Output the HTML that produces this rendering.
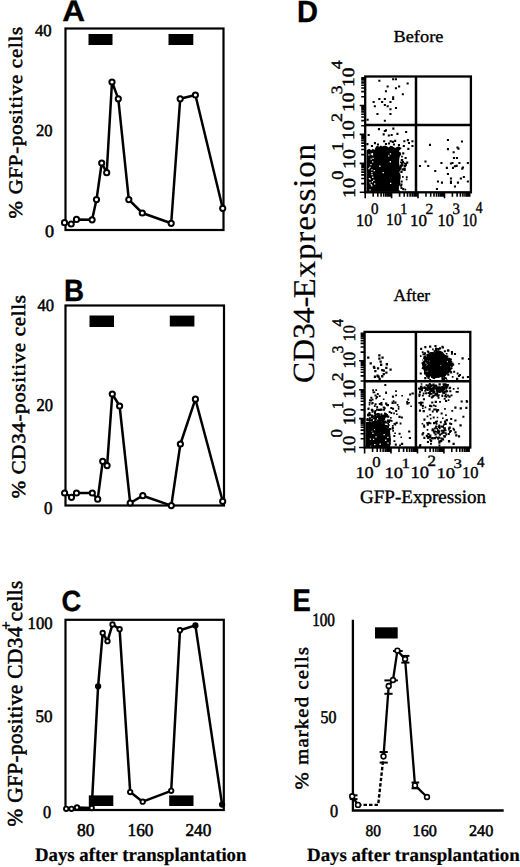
<!DOCTYPE html>
<html><head><meta charset="utf-8"><style>
html,body{margin:0;padding:0;background:#fff;overflow:hidden;width:520px;height:867px;}
svg{display:block;}
</style></head><body>
<svg width="520" height="867" viewBox="0 0 520 867">
<rect width="520" height="867" fill="#fff"/>
<g transform="matrix(1.1266,0,0,1.0500,-50.29,-83.50)"><g transform=""><text text-rendering="geometricPrecision" transform="translate(100,100)" font-family='"Liberation Sans", sans-serif' font-size="28" font-weight="bold" letter-spacing="0" stroke="#000" stroke-width="0.3">A</text></g></g>
<g transform="matrix(0.9908,0,0,1.0973,-35.09,191.19)"><g transform=""><text text-rendering="geometricPrecision" transform="translate(100,100)" font-family='"Liberation Sans", sans-serif' font-size="28" font-weight="bold" letter-spacing="0" stroke="#000" stroke-width="0.3">B</text></g></g>
<g transform="matrix(0.9769,0,0,1.0431,-36.18,507.03)"><g transform=""><text text-rendering="geometricPrecision" transform="translate(100,100)" font-family='"Liberation Sans", sans-serif' font-size="28" font-weight="bold" letter-spacing="0" stroke="#000" stroke-width="0.3">C</text></g></g>
<g transform="matrix(1.0381,0,0,1.0952,193.09,-87.14)"><g transform=""><text text-rendering="geometricPrecision" transform="translate(100,100)" font-family='"Liberation Sans", sans-serif' font-size="28" font-weight="bold" letter-spacing="0" stroke="#000" stroke-width="0.3">D</text></g></g>
<g transform="matrix(0.9782,0,0,1.1169,194.72,499.59)"><g transform=""><text text-rendering="geometricPrecision" transform="translate(100,100)" font-family='"Liberation Sans", sans-serif' font-size="28" font-weight="bold" letter-spacing="0" stroke="#000" stroke-width="0.3">E</text></g></g>
<g transform="matrix(0.9279,0,0,0.9370,-57.82,-57.47)"><g transform=""><text text-rendering="geometricPrecision" transform="translate(100,100)" font-family='"Liberation Serif", serif' font-size="18" font-weight="normal" letter-spacing="0" stroke="#000" stroke-width="0.55">40</text></g></g>
<g transform="matrix(0.9194,0,0,0.9354,-55.99,42.64)"><g transform=""><text text-rendering="geometricPrecision" transform="translate(100,100)" font-family='"Liberation Serif", serif' font-size="18" font-weight="normal" letter-spacing="0" stroke="#000" stroke-width="0.55">20</text></g></g>
<g transform="matrix(1.0091,0,0,0.9736,-56.00,139.29)"><g transform=""><text text-rendering="geometricPrecision" transform="translate(100,100)" font-family='"Liberation Serif", serif' font-size="18" font-weight="normal" letter-spacing="0" stroke="#000" stroke-width="0.55">0</text></g></g>
<g transform="matrix(0.9183,0,0,0.9669,-54.35,213.90)"><g transform=""><text text-rendering="geometricPrecision" transform="translate(100,100)" font-family='"Liberation Serif", serif' font-size="18" font-weight="normal" letter-spacing="0" stroke="#000" stroke-width="0.55">40</text></g></g>
<g transform="matrix(0.9157,0,0,1.0000,-55.09,311.00)"><g transform=""><text text-rendering="geometricPrecision" transform="translate(100,100)" font-family='"Liberation Serif", serif' font-size="18" font-weight="normal" letter-spacing="0" stroke="#000" stroke-width="0.55">20</text></g></g>
<g transform="matrix(0.9365,0,0,1.0000,-49.66,413.50)"><g transform=""><text text-rendering="geometricPrecision" transform="translate(100,100)" font-family='"Liberation Serif", serif' font-size="18" font-weight="normal" letter-spacing="0" stroke="#000" stroke-width="0.55">0</text></g></g>
<g transform="matrix(0.9252,0,0,0.9736,-64.95,531.79)"><g transform=""><text text-rendering="geometricPrecision" transform="translate(100,100)" font-family='"Liberation Serif", serif' font-size="18" font-weight="normal" letter-spacing="0" stroke="#000" stroke-width="0.55">100</text></g></g>
<g transform="matrix(0.9478,0,0,0.9669,-59.26,624.85)"><g transform=""><text text-rendering="geometricPrecision" transform="translate(100,100)" font-family='"Liberation Serif", serif' font-size="18" font-weight="normal" letter-spacing="0" stroke="#000" stroke-width="0.55">50</text></g></g>
<g transform="matrix(0.9024,0,0,1.0000,-47.30,717.50)"><g transform=""><text text-rendering="geometricPrecision" transform="translate(100,100)" font-family='"Liberation Serif", serif' font-size="18" font-weight="normal" letter-spacing="0" stroke="#000" stroke-width="0.55">0</text></g></g>
<g transform="matrix(0.9712,0,0,1.0000,-20.13,736.00)"><g transform=""><text text-rendering="geometricPrecision" transform="translate(100,100)" font-family='"Liberation Serif", serif' font-size="18" font-weight="normal" letter-spacing="0" stroke="#000" stroke-width="0.55">80</text></g></g>
<g transform="matrix(0.9630,0,0,1.0000,31.21,736.00)"><g transform=""><text text-rendering="geometricPrecision" transform="translate(100,100)" font-family='"Liberation Serif", serif' font-size="18" font-weight="normal" letter-spacing="0" stroke="#000" stroke-width="0.55">160</text></g></g>
<g transform="matrix(0.9583,0,0,1.0000,89.63,736.00)"><g transform=""><text text-rendering="geometricPrecision" transform="translate(100,100)" font-family='"Liberation Serif", serif' font-size="18" font-weight="normal" letter-spacing="0" stroke="#000" stroke-width="0.55">240</text></g></g>
<g transform="matrix(0.8453,0,0,1.0412,227.61,522.33)"><g transform=""><text text-rendering="geometricPrecision" transform="translate(100,100)" font-family='"Liberation Serif", serif' font-size="18" font-weight="normal" letter-spacing="0" stroke="#000" stroke-width="0.55">100</text></g></g>
<g transform="matrix(0.8861,0,0,1.0052,231.98,622.00)"><g transform=""><text text-rendering="geometricPrecision" transform="translate(100,100)" font-family='"Liberation Serif", serif' font-size="18" font-weight="normal" letter-spacing="0" stroke="#000" stroke-width="0.55">50</text></g></g>
<g transform="matrix(0.9024,0,0,1.0138,239.71,715.76)"><g transform=""><text text-rendering="geometricPrecision" transform="translate(100,100)" font-family='"Liberation Serif", serif' font-size="18" font-weight="normal" letter-spacing="0" stroke="#000" stroke-width="0.55">0</text></g></g>
<g transform="matrix(0.8569,0,0,0.9014,279.80,745.59)"><g transform=""><text text-rendering="geometricPrecision" transform="translate(100,100)" font-family='"Liberation Serif", serif' font-size="18" font-weight="normal" letter-spacing="0" stroke="#000" stroke-width="0.55">80</text></g></g>
<g transform="matrix(0.9001,0,0,0.9014,322.58,745.59)"><g transform=""><text text-rendering="geometricPrecision" transform="translate(100,100)" font-family='"Liberation Serif", serif' font-size="18" font-weight="normal" letter-spacing="0" stroke="#000" stroke-width="0.55">160</text></g></g>
<g transform="matrix(0.9027,0,0,0.9014,378.70,745.59)"><g transform=""><text text-rendering="geometricPrecision" transform="translate(100,100)" font-family='"Liberation Serif", serif' font-size="18" font-weight="normal" letter-spacing="0" stroke="#000" stroke-width="0.55">240</text></g></g>
<g transform="matrix(1.0050,0,0,1.0165,-65.50,759.03)"><g transform=""><text text-rendering="geometricPrecision" transform="translate(100,100)" font-family='"Liberation Serif", serif' font-size="18.7" font-weight="bold" letter-spacing="0" stroke="#000" stroke-width="0.2">Days after transplantation</text></g></g>
<g transform="matrix(1.0112,0,0,0.9920,205.88,761.67)"><g transform=""><text text-rendering="geometricPrecision" transform="translate(100,100)" font-family='"Liberation Serif", serif' font-size="18.7" font-weight="bold" letter-spacing="0" stroke="#000" stroke-width="0.2">Days after transplantation</text></g></g>
<g transform="matrix(0.9280,0,0,1.0073,-70.40,-285.26)"><g transform="translate(0,400)"><text text-rendering="geometricPrecision" transform="translate(100,100) rotate(-90)" font-family='"Liberation Serif", serif' font-size="20.7" font-weight="normal" letter-spacing="0.75" stroke="#000" stroke-width="0.55">% GFP-positive cells</text></g></g>
<g transform="matrix(0.9292,0,0,1.0038,-67.48,-3.63)"><g transform="translate(0,400)"><text text-rendering="geometricPrecision" transform="translate(100,100) rotate(-90)" font-family='"Liberation Serif", serif' font-size="20.8" font-weight="normal" letter-spacing="0.7" stroke="#000" stroke-width="0.55">% CD34-positive cells</text></g></g>
<g transform="matrix(1.0000,0,0,1.0044,-78.50,324.36)"><g transform="translate(0,400)"><text text-rendering="geometricPrecision" transform="translate(100,100) rotate(-90)" font-family='"Liberation Serif", serif' font-size="21.2" font-weight="normal" letter-spacing="0.4" stroke="#000" stroke-width="0.55">% GFP-positive CD34<tspan font-size="15" dy="-11" dx="-3.5">+</tspan><tspan dy="11" dx="-0.5">cells</tspan></text></g></g>
<g transform="matrix(0.9104,0,0,1.0003,217.09,289.39)"><g transform="translate(0,400)"><text text-rendering="geometricPrecision" transform="translate(100,100) rotate(-90)" font-family='"Liberation Serif", serif' font-size="20.6" font-weight="normal" letter-spacing="1.2" stroke="#000" stroke-width="0.55">% marked cells</text></g></g>
<g transform="matrix(0.9524,0,0,0.9767,218.70,-105.40)"><g transform="translate(0,400)"><text text-rendering="geometricPrecision" transform="translate(100,100) rotate(-90)" font-family='"Liberation Serif", serif' font-size="32.4" font-weight="normal" letter-spacing="0" stroke="#000" stroke-width="0.15">CD34-</text></g></g>
<g transform="matrix(0.9818,0,0,1.0231,216.41,-213.06)"><g transform="translate(0,400)"><text text-rendering="geometricPrecision" transform="translate(100,100) rotate(-90)" font-family='"Liberation Serif", serif' font-size="32.4" font-weight="normal" letter-spacing="0.8" stroke="#000" stroke-width="0.15">Expression</text></g></g>
<g transform="matrix(1.0190,0,0,0.9334,291.59,-51.25)"><g transform=""><text text-rendering="geometricPrecision" transform="translate(100,100)" font-family='"Liberation Serif", serif' font-size="18" font-weight="normal" letter-spacing="0" stroke="#000" stroke-width="0.35">Before</text></g></g>
<g transform="matrix(0.9653,0,0,0.9634,296.96,204.16)"><g transform=""><text text-rendering="geometricPrecision" transform="translate(100,100)" font-family='"Liberation Serif", serif' font-size="18" font-weight="normal" letter-spacing="0" stroke="#000" stroke-width="0.35">After</text></g></g>
<g transform="matrix(1.0031,0,0,0.9990,259.68,403.07)"><g transform=""><text text-rendering="geometricPrecision" transform="translate(100,100)" font-family='"Liberation Serif", serif' font-size="19" font-weight="normal" letter-spacing="0" stroke="#000" stroke-width="0.35">GFP-Expression</text></g></g>
<g transform="matrix(1.0274,0,0,1.1479,252.32,-375.89)"><g transform="translate(0,400)"><text text-rendering="geometricPrecision" transform="translate(100,100) rotate(-90)" font-family='"Liberation Serif", serif' font-size="17.5" font-weight="normal" letter-spacing="0" stroke="#000" stroke-width="0.4">10<tspan font-size="16" dx="-1.5" dy="-12">0</tspan></text></g></g>
<g transform="matrix(1.0217,0,0,1.1296,252.82,-395.83)"><g transform="translate(0,400)"><text text-rendering="geometricPrecision" transform="translate(100,100) rotate(-90)" font-family='"Liberation Serif", serif' font-size="17.5" font-weight="normal" letter-spacing="0" stroke="#000" stroke-width="0.4">10<tspan font-size="16" dx="-1.5" dy="-12">1</tspan></text></g></g>
<g transform="matrix(0.9826,0,0,1.1364,255.83,-428.05)"><g transform="translate(0,400)"><text text-rendering="geometricPrecision" transform="translate(100,100) rotate(-90)" font-family='"Liberation Serif", serif' font-size="17.5" font-weight="normal" letter-spacing="0" stroke="#000" stroke-width="0.4">10<tspan font-size="16" dx="-1.5" dy="-12">2</tspan></text></g></g>
<g transform="matrix(0.9826,0,0,1.1044,255.83,-440.21)"><g transform="translate(0,400)"><text text-rendering="geometricPrecision" transform="translate(100,100) rotate(-90)" font-family='"Liberation Serif", serif' font-size="17.5" font-weight="normal" letter-spacing="0" stroke="#000" stroke-width="0.4">10<tspan font-size="16" dx="-1.5" dy="-12">3</tspan></text></g></g>
<g transform="matrix(0.9826,0,0,1.1044,255.83,-465.22)"><g transform="translate(0,400)"><text text-rendering="geometricPrecision" transform="translate(100,100) rotate(-90)" font-family='"Liberation Serif", serif' font-size="17.5" font-weight="normal" letter-spacing="0" stroke="#000" stroke-width="0.4">10<tspan font-size="16" dx="-1.5" dy="-12">4</tspan></text></g></g>
<g transform="matrix(1.0243,0,0,1.0580,252.13,-74.65)"><g transform="translate(0,400)"><text text-rendering="geometricPrecision" transform="translate(100,100) rotate(-90)" font-family='"Liberation Serif", serif' font-size="17.5" font-weight="normal" letter-spacing="0" stroke="#000" stroke-width="0.4">10<tspan font-size="16" dx="-1.5" dy="-12">0</tspan></text></g></g>
<g transform="matrix(1.0000,0,0,0.9799,254.50,-64.90)"><g transform="translate(0,400)"><text text-rendering="geometricPrecision" transform="translate(100,100) rotate(-90)" font-family='"Liberation Serif", serif' font-size="17.5" font-weight="normal" letter-spacing="0" stroke="#000" stroke-width="0.4">10<tspan font-size="16" dx="-1.5" dy="-12">1</tspan></text></g></g>
<g transform="matrix(1.0043,0,0,1.1004,254.16,-151.42)"><g transform="translate(0,400)"><text text-rendering="geometricPrecision" transform="translate(100,100) rotate(-90)" font-family='"Liberation Serif", serif' font-size="17.5" font-weight="normal" letter-spacing="0" stroke="#000" stroke-width="0.4">10<tspan font-size="16" dx="-1.5" dy="-12">2</tspan></text></g></g>
<g transform="matrix(1.0043,0,0,0.9590,254.16,-110.98)"><g transform="translate(0,400)"><text text-rendering="geometricPrecision" transform="translate(100,100) rotate(-90)" font-family='"Liberation Serif", serif' font-size="17.5" font-weight="normal" letter-spacing="0" stroke="#000" stroke-width="0.4">10<tspan font-size="16" dx="-1.5" dy="-12">3</tspan></text></g></g>
<g transform="matrix(1.0043,0,0,0.9410,254.16,-128.92)"><g transform="translate(0,400)"><text text-rendering="geometricPrecision" transform="translate(100,100) rotate(-90)" font-family='"Liberation Serif", serif' font-size="17.5" font-weight="normal" letter-spacing="0" stroke="#000" stroke-width="0.4">10<tspan font-size="16" dx="-1.5" dy="-12">4</tspan></text></g></g>
<g transform="matrix(0.9358,0,0,0.9997,262.47,126.47)"><g transform=""><text text-rendering="geometricPrecision" transform="translate(100,100)" font-family='"Liberation Serif", serif' font-size="17.5" font-weight="normal" letter-spacing="0" stroke="#000" stroke-width="0.4">10<tspan font-size="16" dx="-1.5" dy="-12">0</tspan></text></g></g>
<g transform="matrix(0.8875,0,0,0.9723,297.36,128.12)"><g transform=""><text text-rendering="geometricPrecision" transform="translate(100,100)" font-family='"Liberation Serif", serif' font-size="17.5" font-weight="normal" letter-spacing="0" stroke="#000" stroke-width="0.4">10<tspan font-size="16" dx="-1.5" dy="-12">1</tspan></text></g></g>
<g transform="matrix(0.9741,0,0,0.9591,312.59,129.61)"><g transform=""><text text-rendering="geometricPrecision" transform="translate(100,100)" font-family='"Liberation Serif", serif' font-size="17.5" font-weight="normal" letter-spacing="0" stroke="#000" stroke-width="0.4">10<tspan font-size="16" dx="-1.5" dy="-12">2</tspan></text></g></g>
<g transform="matrix(0.9295,0,0,1.0023,344.61,125.32)"><g transform=""><text text-rendering="geometricPrecision" transform="translate(100,100)" font-family='"Liberation Serif", serif' font-size="17.5" font-weight="normal" letter-spacing="0" stroke="#000" stroke-width="0.4">10<tspan font-size="16" dx="-1.5" dy="-12">3</tspan></text></g></g>
<g transform="matrix(0.8504,0,0,1.0459,377.10,120.94)"><g transform=""><text text-rendering="geometricPrecision" transform="translate(100,100)" font-family='"Liberation Serif", serif' font-size="17.5" font-weight="normal" letter-spacing="0" stroke="#000" stroke-width="0.4">10<tspan font-size="16" dx="-1.5" dy="-12">4</tspan></text></g></g>
<g transform="matrix(1.0452,0,0,0.9427,250.92,383.89)"><g transform=""><text text-rendering="geometricPrecision" transform="translate(100,100)" font-family='"Liberation Serif", serif' font-size="17.5" font-weight="normal" letter-spacing="0" stroke="#000" stroke-width="0.4">10<tspan font-size="16" dx="-1.5" dy="-12">0</tspan></text></g></g>
<g transform="matrix(1.0638,0,0,0.8847,278.03,389.82)"><g transform=""><text text-rendering="geometricPrecision" transform="translate(100,100)" font-family='"Liberation Serif", serif' font-size="17.5" font-weight="normal" letter-spacing="0" stroke="#000" stroke-width="0.4">10<tspan font-size="16" dx="-1.5" dy="-12">1</tspan></text></g></g>
<g transform="matrix(1.0597,0,0,0.9815,304.45,379.92)"><g transform=""><text text-rendering="geometricPrecision" transform="translate(100,100)" font-family='"Liberation Serif", serif' font-size="17.5" font-weight="normal" letter-spacing="0" stroke="#000" stroke-width="0.4">10<tspan font-size="16" dx="-1.5" dy="-12">2</tspan></text></g></g>
<g transform="matrix(1.0597,0,0,0.8378,330.46,394.49)"><g transform=""><text text-rendering="geometricPrecision" transform="translate(100,100)" font-family='"Liberation Serif", serif' font-size="17.5" font-weight="normal" letter-spacing="0" stroke="#000" stroke-width="0.4">10<tspan font-size="16" dx="-1.5" dy="-12">3</tspan></text></g></g>
<g transform="matrix(0.9410,0,0,0.9444,367.96,383.75)"><g transform=""><text text-rendering="geometricPrecision" transform="translate(100,100)" font-family='"Liberation Serif", serif' font-size="17.5" font-weight="normal" letter-spacing="0" stroke="#000" stroke-width="0.4">10<tspan font-size="16" dx="-1.5" dy="-12">4</tspan></text></g></g>
<rect x="65.5" y="28.5" width="158.0" height="201.5" fill="none" stroke="#000" stroke-width="2.2"/>
<rect x="88.5" y="34" width="24.0" height="11.0" fill="#000"/>
<rect x="168.5" y="34" width="24.8" height="11.0" fill="#000"/>
<path d="M64.5,222.7 L71.2,224 L76.5,219.4 L92.1,219.8 L96.5,199.6 L101.7,163 L106.7,172.7 L112,82 L118.3,98.8 L128.8,199.6 L142.3,213 L171.2,223.3 L180.2,98.8 L195.4,95 L222.7,208.3" fill="none" stroke="#000" stroke-width="2.5" stroke-linejoin="round"/>
<circle cx="64.5" cy="222.7" r="2.6" fill="#fff" stroke="#000" stroke-width="2.0"/>
<circle cx="71.2" cy="224" r="2.6" fill="#fff" stroke="#000" stroke-width="2.0"/>
<circle cx="76.5" cy="219.4" r="2.6" fill="#fff" stroke="#000" stroke-width="2.0"/>
<circle cx="92.1" cy="219.8" r="2.6" fill="#fff" stroke="#000" stroke-width="2.0"/>
<circle cx="96.5" cy="199.6" r="2.6" fill="#fff" stroke="#000" stroke-width="2.0"/>
<circle cx="101.7" cy="163" r="2.6" fill="#fff" stroke="#000" stroke-width="2.0"/>
<circle cx="106.7" cy="172.7" r="2.6" fill="#fff" stroke="#000" stroke-width="2.0"/>
<circle cx="112" cy="82" r="2.6" fill="#fff" stroke="#000" stroke-width="2.0"/>
<circle cx="118.3" cy="98.8" r="2.6" fill="#fff" stroke="#000" stroke-width="2.0"/>
<circle cx="128.8" cy="199.6" r="2.6" fill="#fff" stroke="#000" stroke-width="2.0"/>
<circle cx="142.3" cy="213" r="2.6" fill="#fff" stroke="#000" stroke-width="2.0"/>
<circle cx="171.2" cy="223.3" r="2.6" fill="#fff" stroke="#000" stroke-width="2.0"/>
<circle cx="180.2" cy="98.8" r="2.6" fill="#fff" stroke="#000" stroke-width="2.0"/>
<circle cx="195.4" cy="95" r="2.6" fill="#fff" stroke="#000" stroke-width="2.0"/>
<circle cx="222.7" cy="208.3" r="2.6" fill="#fff" stroke="#000" stroke-width="2.0"/>
<rect x="65.5" y="305.5" width="158.5" height="200.0" fill="none" stroke="#000" stroke-width="2.2"/>
<rect x="89.5" y="315.5" width="24.5" height="11.5" fill="#000"/>
<rect x="169.8" y="315.6" width="24.6" height="10.9" fill="#000"/>
<path d="M64.6,493 L71.5,497.3 L76.5,493 L92.3,493 L97.7,499.2 L102.7,461.3 L107.1,465.6 L112.3,394 L119.6,406 L130.2,503 L142.8,495.7 L171.3,505.6 L180.4,444 L195.4,399.2 L222.7,501.3" fill="none" stroke="#000" stroke-width="2.5" stroke-linejoin="round"/>
<circle cx="64.6" cy="493" r="2.6" fill="#fff" stroke="#000" stroke-width="2.0"/>
<circle cx="71.5" cy="497.3" r="2.6" fill="#fff" stroke="#000" stroke-width="2.0"/>
<circle cx="76.5" cy="493" r="2.6" fill="#fff" stroke="#000" stroke-width="2.0"/>
<circle cx="92.3" cy="493" r="2.6" fill="#fff" stroke="#000" stroke-width="2.0"/>
<circle cx="97.7" cy="499.2" r="2.6" fill="#fff" stroke="#000" stroke-width="2.0"/>
<circle cx="102.7" cy="461.3" r="2.6" fill="#fff" stroke="#000" stroke-width="2.0"/>
<circle cx="107.1" cy="465.6" r="2.6" fill="#fff" stroke="#000" stroke-width="2.0"/>
<circle cx="112.3" cy="394" r="2.6" fill="#fff" stroke="#000" stroke-width="2.0"/>
<circle cx="119.6" cy="406" r="2.6" fill="#fff" stroke="#000" stroke-width="2.0"/>
<circle cx="130.2" cy="503" r="2.6" fill="#fff" stroke="#000" stroke-width="2.0"/>
<circle cx="142.8" cy="495.7" r="2.6" fill="#fff" stroke="#000" stroke-width="2.0"/>
<circle cx="171.3" cy="505.6" r="2.6" fill="#fff" stroke="#000" stroke-width="2.0"/>
<circle cx="180.4" cy="444" r="2.6" fill="#fff" stroke="#000" stroke-width="2.0"/>
<circle cx="195.4" cy="399.2" r="2.6" fill="#fff" stroke="#000" stroke-width="2.0"/>
<circle cx="222.7" cy="501.3" r="2.6" fill="#fff" stroke="#000" stroke-width="2.0"/>
<rect x="65.5" y="619.8" width="158.3" height="190.20000000000005" fill="none" stroke="#000" stroke-width="2.2"/>
<rect x="88.8" y="795.4" width="24.5" height="10.6" fill="#000"/>
<rect x="169.2" y="795.4" width="24.3" height="10.6" fill="#000"/>
<path d="M66.2,808.8 L71.5,808.8 L77,807.5 L91.7,808 L98.1,686.3 L102.7,633 L107.5,641.2 L112.5,624.4 L119.6,629.2 L130.2,792.1 L142.7,801.7 L171.2,790.8 L180,630.2 L195.4,625.4 L222.1,804.6" fill="none" stroke="#000" stroke-width="2.5" stroke-linejoin="round"/>
<circle cx="66.2" cy="808.8" r="2.2" fill="#fff" stroke="#000" stroke-width="1.9"/>
<circle cx="71.5" cy="808.8" r="2.2" fill="#fff" stroke="#000" stroke-width="1.9"/>
<circle cx="77" cy="807.5" r="2.2" fill="#fff" stroke="#000" stroke-width="1.9"/>
<circle cx="91.7" cy="808" r="2.2" fill="#fff" stroke="#000" stroke-width="1.9"/>
<circle cx="98.1" cy="686.3" r="2.2" fill="#000" stroke="#000" stroke-width="1.9"/>
<circle cx="102.7" cy="633" r="2.2" fill="#fff" stroke="#000" stroke-width="1.9"/>
<circle cx="107.5" cy="641.2" r="2.2" fill="#fff" stroke="#000" stroke-width="1.9"/>
<circle cx="112.5" cy="624.4" r="2.2" fill="#fff" stroke="#000" stroke-width="1.9"/>
<circle cx="119.6" cy="629.2" r="2.2" fill="#fff" stroke="#000" stroke-width="1.9"/>
<circle cx="130.2" cy="792.1" r="2.2" fill="#fff" stroke="#000" stroke-width="1.9"/>
<circle cx="142.7" cy="801.7" r="2.2" fill="#fff" stroke="#000" stroke-width="1.9"/>
<circle cx="171.2" cy="790.8" r="2.2" fill="#fff" stroke="#000" stroke-width="1.9"/>
<circle cx="180" cy="630.2" r="2.2" fill="#fff" stroke="#000" stroke-width="1.9"/>
<circle cx="195.4" cy="625.4" r="2.2" fill="#000" stroke="#000" stroke-width="1.9"/>
<circle cx="222.1" cy="804.6" r="2.2" fill="#000" stroke="#000" stroke-width="1.9"/>
<path d="M352.9,619.7 V810.5 H503.7" fill="none" stroke="#000" stroke-width="2.3"/>
<rect x="375" y="627.3" width="22.7" height="11.2" fill="#000"/>
<path d="M358,804.9 L378.2,804.9 L383.5,756.3" fill="none" stroke="#000" stroke-width="2.4" stroke-dasharray="3.5,2"/>
<path d="M352.2,796.3 L358,804.9" fill="none" stroke="#000" stroke-width="2.3"/>
<path d="M383.5,756.3 L388.7,686 L393,680 L397.4,650.6 L405.1,659 L415,785.4 L427,797" fill="none" stroke="#000" stroke-width="2.3" stroke-linejoin="round"/>
<line x1="349.8" y1="795.3" x2="357.5" y2="795.3" stroke="#000" stroke-width="2"/>
<line x1="349.8" y1="799.1" x2="357.5" y2="799.1" stroke="#000" stroke-width="2"/>
<line x1="379.6" y1="752" x2="387.8" y2="752" stroke="#000" stroke-width="2"/>
<line x1="379.6" y1="762.6" x2="387.8" y2="762.6" stroke="#000" stroke-width="2"/>
<line x1="384.4" y1="680.4" x2="397.9" y2="680.4" stroke="#000" stroke-width="2"/>
<line x1="384.4" y1="693.8" x2="392.6" y2="693.8" stroke="#000" stroke-width="2"/>
<line x1="393" y1="651" x2="402.7" y2="651" stroke="#000" stroke-width="2"/>
<line x1="401.3" y1="655.9" x2="409.4" y2="655.9" stroke="#000" stroke-width="2"/>
<line x1="401.3" y1="662.6" x2="409.4" y2="662.6" stroke="#000" stroke-width="2"/>
<line x1="411.5" y1="782.5" x2="419.2" y2="782.5" stroke="#000" stroke-width="2"/>
<line x1="411.5" y1="788.3" x2="419.2" y2="788.3" stroke="#000" stroke-width="2"/>
<circle cx="352.2" cy="796.3" r="2.4" fill="#fff" stroke="#000" stroke-width="1.6"/>
<circle cx="358" cy="804.9" r="2.4" fill="#fff" stroke="#000" stroke-width="1.6"/>
<circle cx="383.5" cy="756.3" r="2.4" fill="#fff" stroke="#000" stroke-width="1.6"/>
<circle cx="388.7" cy="686" r="2.4" fill="#fff" stroke="#000" stroke-width="1.6"/>
<circle cx="393" cy="680" r="2.4" fill="#fff" stroke="#000" stroke-width="1.6"/>
<circle cx="397.4" cy="650.6" r="2.4" fill="#fff" stroke="#000" stroke-width="1.6"/>
<circle cx="405.1" cy="659" r="2.4" fill="#fff" stroke="#000" stroke-width="1.6"/>
<circle cx="415" cy="785.4" r="2.4" fill="#fff" stroke="#000" stroke-width="1.6"/>
<circle cx="427" cy="797" r="2.4" fill="#fff" stroke="#000" stroke-width="1.6"/>
<path fill="#000" d="M366.6,191.8 L366.6,150.5 L368.0,149.3 L369.6,148.9 L371.2,150.2 L372.8,148.7 L374.4,149.9 L376.0,146.5 L377.6,145.7 L379.2,146.8 L380.8,145.6 L382.4,146.6 L384.0,145.7 L385.6,145.7 L387.2,146.6 L388.8,147.6 L390.4,145.8 L392.0,146.1 L393.6,147.1 L395.2,148.0 L396.8,147.0 L398.4,146.5 L401.8,148.0 L398.8,151.0 L401.4,154.0 L399.6,157.0 L399.2,160.0 L399.1,163.0 L399.7,166.0 L401.3,169.0 L399.3,172.0 L400.6,175.0 L400.7,178.0 L399.9,181.0 L400.5,184.0 L398.9,187.0 L398.9,190.0 L401.0,191.8Z"/>
<path fill="#fff" d="M368.8 177.9h1.3v1.3h-1.3zM370.3 163.9h1.3v1.3h-1.3zM371.3 169.2h1.3v1.3h-1.3zM369.4 182.2h1.3v1.3h-1.3zM372.0 161.3h1.3v1.3h-1.3zM371.2 172.0h1.3v1.3h-1.3zM373.2 179.7h1.3v1.3h-1.3zM369.4 189.2h1.3v1.3h-1.3zM368.3 167.9h1.3v1.3h-1.3zM372.4 157.8h1.3v1.3h-1.3zM370.7 153.5h1.3v1.3h-1.3zM371.8 181.1h1.3v1.3h-1.3zM371.2 185.3h1.3v1.3h-1.3zM369.5 178.4h1.3v1.3h-1.3zM371.4 174.0h1.3v1.3h-1.3zM370.5 183.9h1.3v1.3h-1.3zM373.6 170.0h1.3v1.3h-1.3zM371.8 154.3h1.3v1.3h-1.3zM372.1 176.6h1.3v1.3h-1.3zM374.0 183.2h1.3v1.3h-1.3zM369.3 166.7h1.3v1.3h-1.3zM371.8 152.9h1.3v1.3h-1.3zM370.5 158.4h1.3v1.3h-1.3zM368.3 154.2h1.3v1.3h-1.3z"/>
<path fill="#fff" d="M388.1 155.2h1.3v1.3h-1.3zM379.2 165.6h1.3v1.3h-1.3zM389.8 153.2h1.3v1.3h-1.3zM382.6 172.0h1.3v1.3h-1.3zM390.0 182.8h1.3v1.3h-1.3zM389.7 161.1h1.3v1.3h-1.3z"/>
<path fill="#000" d="M378.3 79.7h2.1v2.1h-2.1zM392.1 78.2h2.1v2.1h-2.1zM394.9 78.2h2.1v2.1h-2.1zM406.6 82.5h2.1v2.1h-2.1zM386.6 85.5h2.1v2.1h-2.1zM398.1 85.5h2.1v2.1h-2.1zM394.9 87.2h2.1v2.1h-2.1zM384.9 90.2h2.1v2.1h-2.1zM401.8 93.2h2.1v2.1h-2.1zM392.1 96.2h2.1v2.1h-2.1zM392.1 97.9h2.1v2.1h-2.1zM378.3 97.9h2.1v2.1h-2.1zM383.8 97.9h2.1v2.1h-2.1zM372.6 101.0h2.1v2.1h-2.1zM381.1 101.0h2.1v2.1h-2.1zM389.4 101.0h2.1v2.1h-2.1zM383.8 103.9h2.1v2.1h-2.1zM373.8 105.2h2.1v2.1h-2.1zM386.6 105.2h2.1v2.1h-2.1zM394.9 107.0h2.1v2.1h-2.1zM389.4 108.2h2.1v2.1h-2.1zM376.4 112.9h2.1v2.1h-2.1zM389.4 112.9h2.1v2.1h-2.1zM366.6 118.7h2.1v2.1h-2.1zM383.8 119.7h2.1v2.1h-2.1z"/>
<path fill="#000" d="M446.9 138.9h2.1v2.1h-2.1zM460.9 140.5h2.1v2.1h-2.1zM428.9 143.8h2.1v2.1h-2.1zM446.9 148.1h2.1v2.1h-2.1zM456.4 146.4h2.1v2.1h-2.1zM457.4 147.6h2.1v2.1h-2.1zM452.6 151.2h2.1v2.1h-2.1zM452.9 156.9h2.1v2.1h-2.1zM455.9 156.9h2.1v2.1h-2.1zM424.4 160.4h2.1v2.1h-2.1zM440.4 161.9h2.1v2.1h-2.1zM449.9 162.4h2.1v2.1h-2.1zM451.4 161.9h2.1v2.1h-2.1zM458.4 161.9h2.1v2.1h-2.1zM466.8 161.9h2.1v2.1h-2.1zM418.9 164.9h2.1v2.1h-2.1zM427.2 164.9h2.1v2.1h-2.1zM453.9 165.2h2.1v2.1h-2.1zM451.9 166.8h2.1v2.1h-2.1zM455.6 164.8h2.1v2.1h-2.1zM445.8 166.8h2.1v2.1h-2.1zM461.9 166.4h2.1v2.1h-2.1zM461.2 167.6h2.1v2.1h-2.1zM434.2 169.9h2.1v2.1h-2.1zM446.9 172.9h2.1v2.1h-2.1zM449.9 177.4h2.1v2.1h-2.1zM462.8 175.9h2.1v2.1h-2.1zM459.8 177.4h2.1v2.1h-2.1zM436.9 180.4h2.1v2.1h-2.1zM440.9 181.6h2.1v2.1h-2.1zM449.9 180.4h2.1v2.1h-2.1zM449.9 181.9h2.1v2.1h-2.1zM456.9 181.6h2.1v2.1h-2.1zM466.8 180.4h2.1v2.1h-2.1zM453.9 185.4h2.1v2.1h-2.1zM435.9 187.9h2.1v2.1h-2.1z"/>
<path fill="#000" d="M367.6 133.9h2.1v2.1h-2.1zM377.9 128.1h2.1v2.1h-2.1zM383.8 129.9h2.1v2.1h-2.1zM384.9 129.3h2.1v2.1h-2.1zM382.6 133.3h2.1v2.1h-2.1zM387.8 134.5h2.1v2.1h-2.1zM390.6 133.9h2.1v2.1h-2.1zM392.3 127.6h2.1v2.1h-2.1zM396.4 132.8h2.1v2.1h-2.1zM405.1 131.0h2.1v2.1h-2.1zM383.1 140.2h2.1v2.1h-2.1zM389.6 140.2h2.1v2.1h-2.1zM391.8 140.8h2.1v2.1h-2.1zM394.1 139.8h2.1v2.1h-2.1zM403.3 140.2h2.1v2.1h-2.1zM406.8 139.1h2.1v2.1h-2.1zM411.4 140.2h2.1v2.1h-2.1zM366.4 143.1h2.1v2.1h-2.1zM402.8 144.9h2.1v2.1h-2.1zM407.9 141.9h2.1v2.1h-2.1zM411.4 144.9h2.1v2.1h-2.1zM407.3 147.8h2.1v2.1h-2.1zM402.2 152.3h2.1v2.1h-2.1zM404.6 156.9h2.1v2.1h-2.1zM406.2 161.6h2.1v2.1h-2.1zM403.9 165.0h2.1v2.1h-2.1zM400.4 183.5h2.1v2.1h-2.1zM402.2 188.1h2.1v2.1h-2.1zM370.9 144.9h2.1v2.1h-2.1zM376.9 143.4h2.1v2.1h-2.1zM384.9 142.9h2.1v2.1h-2.1zM392.9 143.5h2.1v2.1h-2.1zM397.9 144.1h2.1v2.1h-2.1zM373.9 142.1h2.1v2.1h-2.1zM387.9 142.4h2.1v2.1h-2.1z"/>
<path fill="#000" d="M400.4 164.2h2.0v2.0h-2.0zM403.5 168.9h2.2v2.2h-2.2zM401.9 160.9h2.1v2.1h-2.1zM403.7 167.4h2.1v2.1h-2.1zM400.5 186.9h2.0v2.0h-2.0zM403.4 162.4h1.8v1.8h-1.8zM399.4 166.1h2.3v2.3h-2.3zM405.1 164.5h1.8v1.8h-1.8zM404.6 163.8h1.9v1.9h-1.9zM405.0 162.7h2.0v2.0h-2.0zM399.9 164.9h2.1v2.1h-2.1zM402.0 176.0h1.7v1.7h-1.7zM403.4 167.6h2.3v2.3h-2.3zM400.1 184.8h2.0v2.0h-2.0zM401.5 168.5h1.9v1.9h-1.9zM400.6 180.4h2.1v2.1h-2.1zM399.3 152.4h1.7v1.7h-1.7zM401.7 164.6h1.9v1.9h-1.9zM400.7 159.2h1.9v1.9h-1.9zM400.7 161.7h1.8v1.8h-1.8zM400.3 170.8h2.3v2.3h-2.3zM405.9 176.2h1.8v1.8h-1.8zM401.1 155.8h1.7v1.7h-1.7zM404.5 188.8h1.7v1.7h-1.7zM400.8 162.7h2.1v2.1h-2.1zM401.1 159.0h2.1v2.1h-2.1zM403.7 168.0h1.6v1.6h-1.6zM399.9 161.5h1.6v1.6h-1.6zM405.8 178.5h1.7v1.7h-1.7zM402.2 168.3h1.6v1.6h-1.6z"/>
<rect x="365.2" y="76.5" width="105.69999999999999" height="115.80000000000001" fill="none" stroke="#000" stroke-width="2.3"/>
<line x1="365.2" y1="125" x2="470.9" y2="125" stroke="#000" stroke-width="2.5"/>
<line x1="416" y1="76.5" x2="416" y2="192.3" stroke="#000" stroke-width="2.5"/>
<path fill="none" stroke="#000" stroke-width="1.6" d="M359.7 192.3H365.2M361.2 183.6H365.2M361.2 178.5H365.2M361.2 174.9H365.2M361.2 172.1H365.2M361.2 169.8H365.2M361.2 167.8H365.2M361.2 166.2H365.2M361.2 164.7H365.2M359.7 163.4H365.2M361.2 154.6H365.2M361.2 149.5H365.2M361.2 145.9H365.2M361.2 143.1H365.2M361.2 140.8H365.2M361.2 138.9H365.2M361.2 137.2H365.2M361.2 135.7H365.2M359.7 134.4H365.2M361.2 125.7H365.2M361.2 120.6H365.2M361.2 117.0H365.2M361.2 114.2H365.2M361.2 111.9H365.2M361.2 109.9H365.2M361.2 108.3H365.2M361.2 106.8H365.2M359.7 105.5H365.2M361.2 96.7H365.2M361.2 91.6H365.2M361.2 88.0H365.2M361.2 85.2H365.2M361.2 82.9H365.2M361.2 81.0H365.2M361.2 79.3H365.2M361.2 77.8H365.2M365.2 192.3V198.3M373.2 192.3V196.8M377.8 192.3V196.8M381.1 192.3V196.8M383.7 192.3V196.8M385.8 192.3V196.8M387.5 192.3V196.8M389.1 192.3V196.8M390.4 192.3V196.8M391.6 192.3V198.3M399.6 192.3V196.8M404.2 192.3V196.8M407.5 192.3V196.8M410.1 192.3V196.8M412.2 192.3V196.8M414.0 192.3V196.8M415.5 192.3V196.8M416.8 192.3V196.8M418.0 192.3V198.3M426.0 192.3V196.8M430.7 192.3V196.8M434.0 192.3V196.8M436.5 192.3V196.8M438.6 192.3V196.8M440.4 192.3V196.8M441.9 192.3V196.8M443.3 192.3V196.8M444.5 192.3V198.3M452.4 192.3V196.8M457.1 192.3V196.8M460.4 192.3V196.8M462.9 192.3V196.8M465.0 192.3V196.8M466.8 192.3V196.8M468.3 192.3V196.8M469.7 192.3V196.8"/>
<path fill="#000" d="M451.9,365.0 L452.1,366.8 L452.7,368.8 L450.7,370.1 L449.9,371.8 L449.0,373.4 L446.8,373.9 L446.0,375.7 L444.5,377.0 L442.8,378.2 L440.2,377.0 L438.4,377.9 L436.5,377.4 L434.4,379.2 L432.3,378.5 L431.1,376.3 L428.0,377.8 L426.2,376.7 L425.2,374.8 L423.9,373.4 L424.0,371.3 L423.6,369.7 L421.4,368.5 L422.5,366.6 L422.0,365.0 L421.9,363.3 L422.9,361.8 L422.3,359.9 L423.2,358.3 L423.4,356.2 L425.5,355.4 L426.8,354.0 L428.8,353.3 L430.4,352.1 L432.5,352.1 L434.6,352.2 L436.5,350.2 L438.7,350.3 L440.8,351.1 L442.7,352.0 L444.0,353.7 L445.4,354.9 L447.0,355.9 L447.7,357.5 L450.6,357.9 L450.5,359.9 L452.5,361.3 L451.5,363.3Z"/>
<path fill="#fff" d="M451.7 375.2h1.5v1.5h-1.5zM423.0 359.2h1.5v1.5h-1.5zM450.3 365.7h1.5v1.5h-1.5zM452.4 363.9h1.5v1.5h-1.5zM425.2 369.7h1.5v1.5h-1.5zM446.4 360.7h1.5v1.5h-1.5zM425.6 362.3h1.5v1.5h-1.5zM451.9 373.0h1.5v1.5h-1.5zM426.5 360.2h1.5v1.5h-1.5zM426.0 355.5h1.5v1.5h-1.5zM446.9 358.4h1.5v1.5h-1.5zM439.8 365.2h1.5v1.5h-1.5zM428.7 372.3h1.5v1.5h-1.5zM426.9 370.1h1.5v1.5h-1.5zM426.5 364.5h1.5v1.5h-1.5zM429.4 360.7h1.5v1.5h-1.5z"/>
<path fill="#000" d="M434.4 344.9h2.1v2.1h-2.1zM434.9 348.9h2.1v2.1h-2.1zM446.9 349.4h2.1v2.1h-2.1zM453.9 352.9h2.1v2.1h-2.1zM467.9 357.9h2.1v2.1h-2.1zM457.9 374.9h2.1v2.1h-2.1zM466.9 375.9h2.1v2.1h-2.1zM461.9 376.4h2.1v2.1h-2.1zM441.9 346.4h2.1v2.1h-2.1zM426.9 350.4h2.1v2.1h-2.1zM450.9 350.9h2.1v2.1h-2.1z"/>
<path fill="#000" d="M451.0 352.8h1.9v1.9h-1.9zM425.0 366.5h2.0v2.0h-2.0zM429.7 362.4h2.2v2.2h-2.2zM425.5 359.4h2.1v2.1h-2.1zM429.3 366.3h1.6v1.6h-1.6zM440.4 355.0h1.9v1.9h-1.9zM427.5 376.8h2.2v2.2h-2.2zM459.0 373.9h2.0v2.0h-2.0zM442.5 364.7h1.9v1.9h-1.9zM445.7 358.1h2.0v2.0h-2.0zM426.7 355.1h2.1v2.1h-2.1zM440.2 362.5h1.7v1.7h-1.7zM421.5 362.3h1.8v1.8h-1.8zM430.6 363.7h2.1v2.1h-2.1zM458.2 362.9h1.6v1.6h-1.6zM447.3 364.7h1.7v1.7h-1.7zM432.5 370.2h2.1v2.1h-2.1zM438.2 373.4h2.1v2.1h-2.1zM437.6 364.1h2.2v2.2h-2.2zM451.1 362.4h2.3v2.3h-2.3zM442.2 371.0h1.7v1.7h-1.7zM439.0 347.2h2.2v2.2h-2.2zM433.6 354.2h1.9v1.9h-1.9zM432.0 368.5h2.0v2.0h-2.0zM443.7 359.0h2.1v2.1h-2.1zM429.4 356.5h2.0v2.0h-2.0zM435.6 352.7h2.3v2.3h-2.3zM427.2 366.1h2.3v2.3h-2.3zM431.0 360.2h1.6v1.6h-1.6zM424.3 346.1h2.1v2.1h-2.1zM447.7 363.0h1.9v1.9h-1.9zM445.5 364.6h2.1v2.1h-2.1zM441.2 372.3h2.2v2.2h-2.2zM435.5 365.9h1.7v1.7h-1.7zM445.8 352.9h1.7v1.7h-1.7zM438.5 361.1h2.1v2.1h-2.1zM436.9 365.6h2.0v2.0h-2.0zM439.0 362.5h2.0v2.0h-2.0zM444.9 356.9h2.1v2.1h-2.1zM442.5 359.6h2.0v2.0h-2.0zM435.6 354.0h2.2v2.2h-2.2zM447.3 349.4h2.2v2.2h-2.2zM445.2 365.2h1.7v1.7h-1.7zM424.1 358.7h2.0v2.0h-2.0zM432.7 359.0h2.2v2.2h-2.2zM424.8 358.8h1.7v1.7h-1.7zM447.2 363.2h1.8v1.8h-1.8zM447.3 373.8h2.0v2.0h-2.0zM446.2 370.4h1.7v1.7h-1.7zM427.0 364.9h1.7v1.7h-1.7zM432.1 348.6h1.6v1.6h-1.6zM441.1 370.3h2.0v2.0h-2.0zM432.7 362.1h1.8v1.8h-1.8zM444.1 357.4h2.2v2.2h-2.2zM419.9 355.2h1.7v1.7h-1.7zM441.8 364.5h2.0v2.0h-2.0zM431.8 355.1h1.9v1.9h-1.9zM439.6 358.5h2.3v2.3h-2.3zM424.3 359.6h2.2v2.2h-2.2zM425.7 366.8h1.9v1.9h-1.9zM419.7 372.5h2.1v2.1h-2.1zM442.8 364.1h1.9v1.9h-1.9zM430.0 361.0h1.7v1.7h-1.7zM432.7 370.5h2.0v2.0h-2.0zM428.5 372.0h2.1v2.1h-2.1zM436.2 353.6h1.7v1.7h-1.7zM425.4 356.4h1.9v1.9h-1.9zM449.8 370.7h1.9v1.9h-1.9zM440.6 367.7h1.7v1.7h-1.7zM427.4 362.4h1.8v1.8h-1.8zM442.8 357.2h1.9v1.9h-1.9zM442.0 370.2h1.8v1.8h-1.8zM449.9 358.4h2.0v2.0h-2.0zM442.1 360.1h2.3v2.3h-2.3zM445.2 359.4h2.1v2.1h-2.1zM433.4 363.1h2.1v2.1h-2.1zM437.7 360.6h2.2v2.2h-2.2zM446.3 367.6h1.9v1.9h-1.9zM429.7 363.8h2.0v2.0h-2.0zM444.9 361.1h2.0v2.0h-2.0zM427.7 361.9h2.0v2.0h-2.0zM438.3 365.1h2.0v2.0h-2.0zM437.4 367.3h2.3v2.3h-2.3zM448.5 364.4h2.2v2.2h-2.2zM435.0 347.5h2.1v2.1h-2.1zM434.9 375.9h2.0v2.0h-2.0zM438.5 365.5h1.7v1.7h-1.7zM442.2 361.7h2.0v2.0h-2.0zM441.9 354.6h2.0v2.0h-2.0zM443.8 360.0h1.7v1.7h-1.7zM439.8 368.8h2.2v2.2h-2.2zM443.2 374.3h1.8v1.8h-1.8zM427.4 367.3h1.7v1.7h-1.7zM431.3 369.4h2.2v2.2h-2.2zM429.0 369.6h2.1v2.1h-2.1zM447.3 368.0h1.7v1.7h-1.7zM443.1 362.4h1.7v1.7h-1.7zM444.5 369.9h1.9v1.9h-1.9zM437.6 359.9h2.1v2.1h-2.1zM433.7 372.5h1.6v1.6h-1.6zM432.6 356.9h1.6v1.6h-1.6zM456.7 372.6h1.9v1.9h-1.9zM451.8 376.1h1.7v1.7h-1.7zM432.0 364.8h2.2v2.2h-2.2zM440.3 370.6h2.0v2.0h-2.0zM430.6 359.8h1.8v1.8h-1.8zM450.4 364.5h1.8v1.8h-1.8zM429.1 355.8h1.9v1.9h-1.9zM452.1 363.6h2.1v2.1h-2.1zM441.4 377.8h2.1v2.1h-2.1zM436.8 361.7h2.2v2.2h-2.2zM440.1 369.0h1.7v1.7h-1.7zM443.1 359.6h2.1v2.1h-2.1zM432.7 361.6h2.1v2.1h-2.1zM423.8 352.3h2.2v2.2h-2.2zM427.4 369.7h1.7v1.7h-1.7zM441.3 366.6h2.2v2.2h-2.2zM420.1 347.8h2.1v2.1h-2.1zM431.5 362.0h1.8v1.8h-1.8zM437.2 348.0h2.3v2.3h-2.3zM429.4 360.6h1.6v1.6h-1.6zM434.9 359.2h2.2v2.2h-2.2zM438.4 369.8h2.1v2.1h-2.1zM427.0 372.5h2.2v2.2h-2.2zM429.0 371.6h1.9v1.9h-1.9zM436.7 359.5h1.9v1.9h-1.9zM432.8 369.6h1.8v1.8h-1.8zM435.7 359.5h1.7v1.7h-1.7zM431.6 371.4h1.9v1.9h-1.9zM443.0 363.7h2.2v2.2h-2.2zM445.6 358.0h2.2v2.2h-2.2zM444.6 362.8h1.9v1.9h-1.9zM445.4 377.4h1.6v1.6h-1.6zM436.2 360.1h2.0v2.0h-2.0zM445.2 372.2h2.1v2.1h-2.1zM445.8 379.2h1.8v1.8h-1.8zM436.0 373.1h2.1v2.1h-2.1zM443.3 369.4h2.2v2.2h-2.2zM430.6 366.0h2.1v2.1h-2.1zM444.3 363.2h1.8v1.8h-1.8zM425.1 367.8h2.1v2.1h-2.1zM448.0 364.8h1.6v1.6h-1.6zM437.2 375.5h2.3v2.3h-2.3zM445.8 365.5h2.3v2.3h-2.3zM426.3 365.5h2.0v2.0h-2.0zM441.4 369.7h1.7v1.7h-1.7zM423.7 353.8h1.7v1.7h-1.7zM439.9 366.3h1.7v1.7h-1.7zM449.3 359.5h1.9v1.9h-1.9zM440.6 358.5h2.1v2.1h-2.1zM442.0 360.9h1.6v1.6h-1.6zM443.8 364.8h1.8v1.8h-1.8zM441.0 367.2h2.2v2.2h-2.2zM424.7 368.7h2.2v2.2h-2.2zM441.0 371.5h2.2v2.2h-2.2zM440.3 353.5h1.8v1.8h-1.8zM441.5 354.8h2.2v2.2h-2.2zM456.0 377.7h2.3v2.3h-2.3zM448.9 369.9h1.7v1.7h-1.7zM435.0 371.2h2.1v2.1h-2.1zM433.2 366.6h2.3v2.3h-2.3zM435.5 366.0h1.9v1.9h-1.9zM440.8 371.5h1.9v1.9h-1.9zM443.0 378.2h2.1v2.1h-2.1zM446.3 355.4h2.0v2.0h-2.0zM434.9 361.0h1.9v1.9h-1.9zM440.5 365.9h2.2v2.2h-2.2zM439.7 372.8h1.8v1.8h-1.8zM429.4 368.9h1.7v1.7h-1.7zM426.1 360.7h2.0v2.0h-2.0zM433.6 350.3h2.1v2.1h-2.1zM426.5 362.3h1.9v1.9h-1.9zM438.8 366.6h1.9v1.9h-1.9zM447.0 358.4h2.0v2.0h-2.0zM433.8 366.8h1.9v1.9h-1.9zM433.6 362.1h1.9v1.9h-1.9zM432.4 361.6h1.7v1.7h-1.7zM435.1 361.1h1.7v1.7h-1.7zM435.1 363.5h2.1v2.1h-2.1zM432.5 353.9h1.8v1.8h-1.8zM461.5 357.2h2.2v2.2h-2.2zM447.7 359.1h1.8v1.8h-1.8zM424.2 377.1h2.2v2.2h-2.2zM429.5 362.7h1.9v1.9h-1.9zM444.1 371.9h1.7v1.7h-1.7zM444.7 365.0h2.2v2.2h-2.2zM429.2 379.1h1.9v1.9h-1.9zM436.8 374.3h2.3v2.3h-2.3zM429.0 345.4h2.3v2.3h-2.3zM435.6 359.7h2.3v2.3h-2.3zM436.4 360.9h1.9v1.9h-1.9zM437.5 364.0h2.3v2.3h-2.3zM436.6 362.9h1.7v1.7h-1.7zM448.4 361.1h2.1v2.1h-2.1zM421.8 351.2h1.8v1.8h-1.8zM441.4 345.7h1.9v1.9h-1.9zM436.8 359.2h1.7v1.7h-1.7zM430.3 354.2h1.7v1.7h-1.7zM436.3 360.7h1.8v1.8h-1.8zM431.2 354.8h1.9v1.9h-1.9zM451.0 365.2h1.8v1.8h-1.8zM439.9 358.2h2.0v2.0h-2.0zM443.8 350.2h2.1v2.1h-2.1zM447.0 368.8h2.1v2.1h-2.1zM424.1 372.8h1.6v1.6h-1.6zM445.7 364.6h2.2v2.2h-2.2zM422.4 353.3h1.9v1.9h-1.9zM437.3 372.1h1.6v1.6h-1.6zM425.2 356.7h2.2v2.2h-2.2zM441.6 375.2h1.7v1.7h-1.7zM431.1 376.0h2.0v2.0h-2.0zM439.0 360.7h1.7v1.7h-1.7zM423.2 362.7h1.7v1.7h-1.7zM445.2 372.4h2.2v2.2h-2.2zM434.6 366.2h2.2v2.2h-2.2zM437.5 357.5h2.2v2.2h-2.2zM450.2 371.5h2.0v2.0h-2.0zM443.4 364.2h2.3v2.3h-2.3zM427.8 351.2h1.7v1.7h-1.7zM434.0 359.3h2.1v2.1h-2.1zM441.5 375.3h1.8v1.8h-1.8zM443.8 377.0h1.9v1.9h-1.9zM443.7 365.0h2.2v2.2h-2.2zM439.7 358.5h2.1v2.1h-2.1zM446.2 362.7h1.7v1.7h-1.7zM433.2 373.4h1.6v1.6h-1.6zM426.4 368.4h2.0v2.0h-2.0zM444.4 361.3h1.8v1.8h-1.8zM444.4 354.9h2.0v2.0h-2.0zM453.2 370.7h2.0v2.0h-2.0zM445.9 386.3h2.0v2.0h-2.0zM427.4 387.7h2.1v2.1h-2.1zM418.5 395.2h1.7v1.7h-1.7zM435.6 385.3h1.8v1.8h-1.8zM435.9 387.9h1.9v1.9h-1.9zM432.2 391.4h1.9v1.9h-1.9zM418.0 387.6h2.0v2.0h-2.0zM444.3 395.0h2.0v2.0h-2.0zM432.5 383.6h2.1v2.1h-2.1zM428.8 392.4h2.1v2.1h-2.1zM439.3 390.5h2.2v2.2h-2.2zM432.4 388.6h2.2v2.2h-2.2zM435.7 386.7h2.1v2.1h-2.1zM434.8 384.7h2.3v2.3h-2.3zM443.8 391.0h1.6v1.6h-1.6zM434.6 393.0h1.8v1.8h-1.8zM429.9 384.8h2.3v2.3h-2.3zM449.1 386.7h2.0v2.0h-2.0zM440.1 389.3h2.1v2.1h-2.1zM441.4 394.6h1.9v1.9h-1.9zM430.7 388.8h1.8v1.8h-1.8zM436.3 391.3h1.7v1.7h-1.7zM445.3 389.2h1.8v1.8h-1.8zM432.2 386.9h2.3v2.3h-2.3zM431.4 388.9h1.6v1.6h-1.6zM425.0 388.1h1.9v1.9h-1.9zM436.6 387.0h1.8v1.8h-1.8zM419.2 388.7h1.9v1.9h-1.9zM429.4 390.9h1.7v1.7h-1.7zM427.7 384.2h1.9v1.9h-1.9zM436.3 393.1h1.9v1.9h-1.9zM430.8 392.9h1.8v1.8h-1.8zM419.9 386.0h2.3v2.3h-2.3zM445.2 385.7h1.7v1.7h-1.7zM437.9 387.7h1.7v1.7h-1.7zM438.5 383.3h2.3v2.3h-2.3zM433.5 385.7h2.1v2.1h-2.1zM444.8 393.4h2.0v2.0h-2.0zM431.7 388.3h2.1v2.1h-2.1zM444.1 383.2h2.2v2.2h-2.2zM443.3 392.1h1.9v1.9h-1.9zM438.6 389.5h2.2v2.2h-2.2zM433.2 390.5h1.9v1.9h-1.9zM431.6 395.5h2.2v2.2h-2.2zM433.0 390.7h1.9v1.9h-1.9zM441.2 389.2h1.8v1.8h-1.8zM432.9 391.5h2.2v2.2h-2.2zM428.8 383.0h2.0v2.0h-2.0zM443.7 397.7h2.0v2.0h-2.0zM428.8 386.8h2.0v2.0h-2.0zM428.5 395.1h1.8v1.8h-1.8zM433.9 387.7h1.9v1.9h-1.9zM442.1 391.9h1.9v1.9h-1.9zM422.2 387.3h1.6v1.6h-1.6zM429.0 388.5h2.3v2.3h-2.3zM444.3 384.0h2.3v2.3h-2.3zM442.6 385.4h2.1v2.1h-2.1zM441.5 390.1h1.9v1.9h-1.9zM448.6 387.2h2.0v2.0h-2.0zM438.1 389.3h2.1v2.1h-2.1zM425.2 388.1h2.1v2.1h-2.1zM442.8 383.9h1.9v1.9h-1.9zM428.6 386.5h2.0v2.0h-2.0zM457.2 391.1h1.6v1.6h-1.6zM446.6 384.1h2.3v2.3h-2.3zM437.6 386.8h1.8v1.8h-1.8zM434.9 393.7h2.1v2.1h-2.1zM435.1 384.6h1.7v1.7h-1.7zM448.5 395.6h1.8v1.8h-1.8zM425.3 387.5h1.9v1.9h-1.9zM441.5 395.4h1.7v1.7h-1.7zM442.3 385.9h1.7v1.7h-1.7zM429.9 384.0h1.8v1.8h-1.8zM436.3 389.7h1.7v1.7h-1.7zM455.6 390.9h1.9v1.9h-1.9zM418.4 393.4h2.3v2.3h-2.3zM433.5 394.4h1.9v1.9h-1.9zM438.9 386.3h1.9v1.9h-1.9zM435.5 393.2h2.0v2.0h-2.0zM445.2 391.1h1.6v1.6h-1.6zM442.8 390.1h1.6v1.6h-1.6zM435.9 393.0h2.0v2.0h-2.0zM432.1 384.4h2.0v2.0h-2.0zM450.6 394.4h1.9v1.9h-1.9zM442.7 392.0h1.6v1.6h-1.6zM420.7 383.2h1.6v1.6h-1.6zM452.8 388.0h1.7v1.7h-1.7zM435.3 393.9h1.9v1.9h-1.9zM436.4 394.4h2.3v2.3h-2.3zM419.0 391.0h1.9v1.9h-1.9zM427.3 384.9h1.8v1.8h-1.8zM440.1 390.9h1.6v1.6h-1.6zM447.1 394.6h1.8v1.8h-1.8zM426.7 388.8h2.1v2.1h-2.1zM425.1 392.3h1.9v1.9h-1.9zM423.6 386.2h1.9v1.9h-1.9zM457.2 387.6h1.7v1.7h-1.7zM439.9 386.9h1.7v1.7h-1.7zM420.5 385.5h2.0v2.0h-2.0zM424.0 386.7h2.3v2.3h-2.3zM427.4 392.1h1.8v1.8h-1.8zM429.5 387.2h1.6v1.6h-1.6zM425.5 387.7h1.9v1.9h-1.9zM441.7 388.1h2.2v2.2h-2.2zM445.2 383.8h1.8v1.8h-1.8zM426.7 385.6h2.0v2.0h-2.0zM436.6 389.7h2.2v2.2h-2.2zM438.3 387.5h2.3v2.3h-2.3zM422.7 392.6h1.9v1.9h-1.9zM426.7 387.4h2.2v2.2h-2.2zM430.8 390.3h2.0v2.0h-2.0zM443.2 388.3h1.9v1.9h-1.9zM445.4 387.0h1.9v1.9h-1.9zM421.0 389.3h2.0v2.0h-2.0zM440.6 387.2h2.1v2.1h-2.1zM438.0 389.5h1.7v1.7h-1.7zM442.0 387.1h2.2v2.2h-2.2zM419.9 387.3h1.7v1.7h-1.7zM438.2 391.0h2.0v2.0h-2.0zM444.1 384.5h1.7v1.7h-1.7zM433.2 384.8h2.2v2.2h-2.2zM430.5 387.4h2.1v2.1h-2.1zM435.7 388.1h2.2v2.2h-2.2zM428.9 393.3h1.8v1.8h-1.8zM430.0 389.3h2.2v2.2h-2.2zM449.3 390.2h2.1v2.1h-2.1zM434.9 393.2h1.9v1.9h-1.9zM425.5 384.2h1.9v1.9h-1.9zM437.5 386.2h2.2v2.2h-2.2zM433.3 390.7h2.2v2.2h-2.2zM448.4 395.6h2.2v2.2h-2.2zM437.6 396.8h1.9v1.9h-1.9zM432.4 394.9h2.0v2.0h-2.0zM436.1 390.5h1.8v1.8h-1.8zM444.0 386.6h1.8v1.8h-1.8zM437.6 394.2h2.1v2.1h-2.1zM420.8 387.5h2.0v2.0h-2.0zM442.5 383.2h1.7v1.7h-1.7zM428.6 385.6h2.3v2.3h-2.3zM428.6 388.0h1.7v1.7h-1.7zM421.9 394.7h1.9v1.9h-1.9zM446.1 390.2h2.1v2.1h-2.1zM428.8 391.2h1.9v1.9h-1.9zM445.5 396.1h1.7v1.7h-1.7zM435.9 389.1h1.6v1.6h-1.6zM424.3 389.8h2.0v2.0h-2.0zM432.9 390.5h2.1v2.1h-2.1zM441.2 386.1h2.0v2.0h-2.0zM427.3 386.7h1.9v1.9h-1.9zM430.8 396.4h2.1v2.1h-2.1zM421.6 423.0h1.6v1.6h-1.6zM429.3 436.2h1.8v1.8h-1.8zM433.0 422.1h2.1v2.1h-2.1zM447.7 433.0h2.1v2.1h-2.1zM426.7 429.1h1.6v1.6h-1.6zM437.4 429.4h2.2v2.2h-2.2zM438.0 436.5h2.3v2.3h-2.3zM435.5 436.3h1.6v1.6h-1.6zM436.7 416.7h1.6v1.6h-1.6zM447.9 440.1h2.3v2.3h-2.3zM438.4 424.5h1.8v1.8h-1.8zM445.4 433.8h1.8v1.8h-1.8zM449.1 422.6h1.8v1.8h-1.8zM440.4 425.5h2.0v2.0h-2.0zM439.8 421.3h2.0v2.0h-2.0zM435.1 427.0h1.7v1.7h-1.7zM427.3 422.7h1.9v1.9h-1.9zM444.5 422.8h2.3v2.3h-2.3zM452.5 442.7h2.2v2.2h-2.2zM437.2 437.8h2.0v2.0h-2.0zM427.3 432.9h2.3v2.3h-2.3zM442.0 417.4h1.6v1.6h-1.6zM459.4 424.3h2.3v2.3h-2.3zM432.1 429.2h2.1v2.1h-2.1zM426.2 435.3h1.9v1.9h-1.9zM435.3 422.4h1.6v1.6h-1.6zM429.9 417.8h1.6v1.6h-1.6zM423.1 424.5h1.9v1.9h-1.9zM448.9 431.0h2.0v2.0h-2.0zM429.7 422.5h1.7v1.7h-1.7zM433.9 437.1h2.2v2.2h-2.2zM445.6 418.9h2.3v2.3h-2.3zM448.7 426.6h2.1v2.1h-2.1zM445.1 414.3h1.7v1.7h-1.7zM448.1 427.2h2.1v2.1h-2.1zM422.3 432.0h1.9v1.9h-1.9zM438.8 427.3h1.8v1.8h-1.8zM431.7 428.3h1.7v1.7h-1.7zM431.4 429.5h1.8v1.8h-1.8zM438.5 444.6h1.9v1.9h-1.9zM427.4 433.3h1.8v1.8h-1.8zM452.5 427.8h1.7v1.7h-1.7zM418.9 444.8h2.1v2.1h-2.1zM455.2 434.3h2.3v2.3h-2.3zM428.1 436.0h2.1v2.1h-2.1zM425.8 434.7h2.1v2.1h-2.1zM454.3 419.4h2.2v2.2h-2.2zM434.8 421.2h1.7v1.7h-1.7zM443.2 427.2h1.7v1.7h-1.7zM443.4 435.7h2.1v2.1h-2.1zM436.3 409.5h1.6v1.6h-1.6zM430.0 442.8h1.9v1.9h-1.9zM437.6 425.7h1.9v1.9h-1.9zM450.2 418.1h2.0v2.0h-2.0zM438.1 426.0h2.1v2.1h-2.1zM437.3 431.9h2.3v2.3h-2.3zM432.7 416.6h2.0v2.0h-2.0zM442.6 429.7h2.0v2.0h-2.0zM444.1 435.7h1.9v1.9h-1.9zM429.3 438.8h2.0v2.0h-2.0zM440.0 439.9h2.3v2.3h-2.3zM434.5 433.2h2.2v2.2h-2.2zM423.4 418.6h2.1v2.1h-2.1zM432.8 430.4h2.0v2.0h-2.0zM427.9 421.7h2.3v2.3h-2.3zM449.7 430.0h2.1v2.1h-2.1zM429.4 414.0h1.8v1.8h-1.8zM426.3 422.1h2.0v2.0h-2.0zM444.1 427.3h1.8v1.8h-1.8zM453.2 428.8h1.9v1.9h-1.9zM458.0 435.3h2.1v2.1h-2.1zM426.9 441.0h2.1v2.1h-2.1zM440.5 437.6h2.2v2.2h-2.2zM441.9 438.2h2.2v2.2h-2.2zM426.7 423.7h2.1v2.1h-2.1zM444.6 429.4h1.9v1.9h-1.9zM429.1 434.6h2.3v2.3h-2.3zM422.6 410.0h2.3v2.3h-2.3zM450.4 423.1h1.8v1.8h-1.8zM440.6 432.8h1.9v1.9h-1.9zM451.3 409.9h1.9v1.9h-1.9zM426.6 415.5h1.8v1.8h-1.8zM423.3 425.8h2.0v2.0h-2.0zM436.5 428.0h1.6v1.6h-1.6zM438.0 430.7h2.1v2.1h-2.1zM430.1 440.0h2.1v2.1h-2.1zM433.8 427.6h1.8v1.8h-1.8zM440.9 429.7h2.0v2.0h-2.0zM448.1 428.7h1.7v1.7h-1.7zM444.0 420.5h2.2v2.2h-2.2zM431.5 437.1h2.3v2.3h-2.3zM433.9 430.4h2.2v2.2h-2.2zM438.3 441.6h2.2v2.2h-2.2zM443.2 423.6h1.8v1.8h-1.8zM430.6 437.3h1.8v1.8h-1.8zM454.4 431.2h2.2v2.2h-2.2zM435.7 423.0h1.8v1.8h-1.8zM427.5 436.4h1.9v1.9h-1.9zM443.5 429.1h2.2v2.2h-2.2zM441.7 432.1h1.6v1.6h-1.6zM436.9 429.7h2.1v2.1h-2.1zM442.6 431.7h2.1v2.1h-2.1zM438.9 433.7h2.1v2.1h-2.1zM433.4 432.1h1.7v1.7h-1.7zM435.1 425.5h2.1v2.1h-2.1zM444.8 432.3h1.8v1.8h-1.8zM423.3 436.8h2.0v2.0h-2.0zM440.7 429.8h1.9v1.9h-1.9zM421.5 433.3h2.1v2.1h-2.1zM435.5 420.7h1.8v1.8h-1.8zM436.6 436.8h1.8v1.8h-1.8zM423.5 437.2h1.9v1.9h-1.9zM435.8 430.9h1.8v1.8h-1.8zM441.8 425.6h2.2v2.2h-2.2zM419.5 444.1h1.8v1.8h-1.8zM434.7 408.4h2.0v2.0h-2.0zM443.2 435.1h2.2v2.2h-2.2zM427.1 436.6h2.3v2.3h-2.3zM436.2 420.4h1.8v1.8h-1.8zM438.3 440.2h2.1v2.1h-2.1zM431.2 401.4h2.1v2.1h-2.1zM418.9 409.6h2.1v2.1h-2.1zM431.8 410.5h1.9v1.9h-1.9zM447.8 399.3h1.6v1.6h-1.6zM436.0 410.5h2.0v2.0h-2.0zM439.1 400.9h1.9v1.9h-1.9zM421.7 404.7h2.2v2.2h-2.2zM421.9 401.8h1.7v1.7h-1.7zM422.9 398.2h2.1v2.1h-2.1zM428.5 408.2h2.2v2.2h-2.2zM433.0 404.6h1.7v1.7h-1.7zM440.6 412.5h2.1v2.1h-2.1zM422.0 407.5h1.6v1.6h-1.6zM420.0 401.5h2.3v2.3h-2.3zM445.0 399.9h2.2v2.2h-2.2zM424.6 406.5h1.7v1.7h-1.7zM434.7 405.2h1.8v1.8h-1.8zM430.4 405.3h2.0v2.0h-2.0zM433.2 408.5h2.1v2.1h-2.1zM429.0 404.8h2.3v2.3h-2.3zM419.8 403.5h2.2v2.2h-2.2zM436.9 409.0h2.3v2.3h-2.3zM434.7 400.8h2.2v2.2h-2.2zM418.3 402.0h1.7v1.7h-1.7zM444.1 408.0h1.7v1.7h-1.7zM460.6 400.5h2.1v2.1h-2.1zM465.3 406.8h2.1v2.1h-2.1zM459.6 407.3h2.3v2.3h-2.3zM462.4 415.7h2.0v2.0h-2.0zM465.8 400.4h2.3v2.3h-2.3zM454.3 406.6h2.2v2.2h-2.2zM465.7 399.9h1.6v1.6h-1.6z"/>
<path fill="#000" d="M367.1 356.4h2.3v2.3h-2.3zM378.2 354.2h2.3v2.3h-2.3zM378.2 357.4h2.3v2.3h-2.3zM381.4 356.4h2.3v2.3h-2.3zM369.6 362.2h2.3v2.3h-2.3zM379.5 360.5h2.3v2.3h-2.3zM380.0 363.6h2.3v2.3h-2.3zM385.7 363.1h2.3v2.3h-2.3zM372.8 365.7h2.3v2.3h-2.3zM373.2 366.8h2.3v2.3h-2.3zM376.9 367.2h2.3v2.3h-2.3zM385.2 366.8h2.3v2.3h-2.3zM381.1 368.9h2.3v2.3h-2.3zM382.6 369.4h2.3v2.3h-2.3zM389.4 368.5h2.3v2.3h-2.3zM374.2 369.9h2.3v2.3h-2.3zM385.2 371.4h2.3v2.3h-2.3zM382.6 373.0h2.3v2.3h-2.3zM376.4 374.6h2.3v2.3h-2.3zM373.8 375.6h2.3v2.3h-2.3zM377.4 375.6h2.3v2.3h-2.3zM381.1 375.1h2.3v2.3h-2.3zM378.5 377.7h2.3v2.3h-2.3z"/>
<path fill="#000" d="M366,447.5 L366,422 L370,421.5 L374,424 L378,422.5 L382,425 L386,427 L390,431 L391,440 L390,447.5 Z"/>
<path fill="#fff" d="M387.4 442.5h1.3v1.3h-1.3zM374.1 443.9h1.3v1.3h-1.3zM372.2 435.1h1.3v1.3h-1.3zM385.1 439.6h1.3v1.3h-1.3zM370.0 445.8h1.3v1.3h-1.3zM372.3 432.6h1.3v1.3h-1.3zM383.5 433.9h1.3v1.3h-1.3zM373.9 429.3h1.3v1.3h-1.3zM369.8 438.5h1.3v1.3h-1.3zM372.9 438.8h1.3v1.3h-1.3zM375.4 436.2h1.3v1.3h-1.3zM387.2 436.7h1.3v1.3h-1.3zM379.5 443.6h1.3v1.3h-1.3zM371.7 430.8h1.3v1.3h-1.3z"/>
<path fill="#000" d="M371.3 416.2h1.7v1.7h-1.7zM371.5 411.0h1.8v1.8h-1.8zM379.3 420.9h1.6v1.6h-1.6zM398.4 415.7h2.3v2.3h-2.3zM368.5 432.1h2.2v2.2h-2.2zM370.8 419.0h2.0v2.0h-2.0zM370.6 424.9h1.8v1.8h-1.8zM367.7 407.6h1.9v1.9h-1.9zM375.7 416.4h1.7v1.7h-1.7zM371.2 402.7h1.7v1.7h-1.7zM374.0 423.2h2.0v2.0h-2.0zM374.6 426.0h1.8v1.8h-1.8zM386.9 419.6h2.3v2.3h-2.3zM371.0 426.9h2.1v2.1h-2.1zM368.9 419.8h1.9v1.9h-1.9zM384.0 412.6h1.7v1.7h-1.7zM378.8 429.6h1.7v1.7h-1.7zM383.4 424.2h1.8v1.8h-1.8zM386.9 430.2h2.3v2.3h-2.3zM381.0 416.2h2.1v2.1h-2.1zM379.6 421.5h2.3v2.3h-2.3zM377.2 420.0h1.8v1.8h-1.8zM378.2 425.2h2.2v2.2h-2.2zM369.1 417.3h2.2v2.2h-2.2zM374.6 420.8h1.9v1.9h-1.9zM377.4 430.6h1.7v1.7h-1.7zM383.2 417.9h2.0v2.0h-2.0zM383.7 429.9h2.2v2.2h-2.2zM379.8 421.7h1.8v1.8h-1.8zM374.3 440.1h2.0v2.0h-2.0zM388.0 428.6h1.7v1.7h-1.7zM374.0 416.0h1.7v1.7h-1.7zM385.7 425.0h1.9v1.9h-1.9zM378.8 435.9h2.2v2.2h-2.2zM383.5 414.9h1.7v1.7h-1.7zM376.3 406.1h1.8v1.8h-1.8zM370.0 427.9h2.2v2.2h-2.2zM374.7 415.6h1.9v1.9h-1.9zM380.6 421.1h2.1v2.1h-2.1zM376.0 408.6h2.1v2.1h-2.1zM378.5 422.2h1.6v1.6h-1.6zM374.4 410.0h1.9v1.9h-1.9zM372.2 423.9h1.9v1.9h-1.9zM370.0 424.1h1.8v1.8h-1.8zM391.7 427.1h2.2v2.2h-2.2zM391.9 424.9h1.8v1.8h-1.8zM372.1 425.8h1.9v1.9h-1.9zM370.5 419.2h2.2v2.2h-2.2zM372.6 424.5h1.8v1.8h-1.8zM379.2 424.1h1.7v1.7h-1.7zM380.9 423.3h1.7v1.7h-1.7zM388.3 421.3h1.7v1.7h-1.7zM371.6 416.3h1.8v1.8h-1.8zM376.3 429.3h2.2v2.2h-2.2zM368.6 429.3h1.7v1.7h-1.7zM373.1 434.9h1.9v1.9h-1.9zM378.4 408.8h1.8v1.8h-1.8zM380.7 429.3h2.2v2.2h-2.2zM379.1 421.2h1.6v1.6h-1.6zM378.0 417.3h1.6v1.6h-1.6zM371.0 418.7h2.0v2.0h-2.0zM384.8 425.0h1.9v1.9h-1.9zM371.4 421.8h1.9v1.9h-1.9zM383.7 420.4h2.2v2.2h-2.2zM369.7 419.8h1.7v1.7h-1.7zM383.0 417.3h2.2v2.2h-2.2zM378.1 408.7h2.0v2.0h-2.0zM371.6 428.1h2.0v2.0h-2.0zM368.0 432.5h1.6v1.6h-1.6zM384.3 427.7h1.8v1.8h-1.8zM382.3 416.2h1.7v1.7h-1.7zM386.9 426.1h2.1v2.1h-2.1zM372.8 427.3h1.7v1.7h-1.7zM368.7 403.9h1.6v1.6h-1.6zM373.5 426.9h2.1v2.1h-2.1zM379.2 416.2h1.6v1.6h-1.6zM367.3 414.4h2.0v2.0h-2.0zM391.5 427.9h1.9v1.9h-1.9zM378.8 414.8h1.7v1.7h-1.7zM376.3 429.3h1.9v1.9h-1.9zM388.8 428.0h2.2v2.2h-2.2zM381.9 419.4h1.9v1.9h-1.9zM381.3 425.2h2.2v2.2h-2.2zM381.8 420.0h1.8v1.8h-1.8zM374.5 419.0h1.7v1.7h-1.7zM390.1 417.1h1.6v1.6h-1.6zM374.1 423.4h2.2v2.2h-2.2zM374.2 419.8h1.9v1.9h-1.9zM382.7 406.4h2.2v2.2h-2.2zM376.4 415.9h2.2v2.2h-2.2zM380.5 403.7h2.1v2.1h-2.1zM379.2 416.2h1.8v1.8h-1.8zM378.3 408.8h2.1v2.1h-2.1zM382.7 417.8h1.9v1.9h-1.9zM371.0 415.1h2.1v2.1h-2.1zM376.7 419.4h2.1v2.1h-2.1zM374.3 415.4h1.8v1.8h-1.8zM381.7 441.2h2.3v2.3h-2.3zM368.4 414.4h1.8v1.8h-1.8zM376.7 419.8h2.1v2.1h-2.1zM372.8 423.2h1.7v1.7h-1.7zM369.5 414.1h1.7v1.7h-1.7zM377.4 412.9h2.0v2.0h-2.0zM371.2 426.4h2.3v2.3h-2.3zM375.3 426.0h1.9v1.9h-1.9zM374.4 421.2h2.0v2.0h-2.0zM371.8 435.1h2.2v2.2h-2.2zM373.8 414.6h2.3v2.3h-2.3zM375.3 417.9h1.8v1.8h-1.8zM377.9 429.9h1.9v1.9h-1.9zM376.6 420.2h1.7v1.7h-1.7zM375.8 427.2h1.7v1.7h-1.7zM371.7 426.5h1.9v1.9h-1.9zM399.6 422.6h1.9v1.9h-1.9zM386.2 414.1h1.7v1.7h-1.7zM377.1 414.8h1.7v1.7h-1.7zM383.0 420.7h1.6v1.6h-1.6zM375.1 422.2h2.1v2.1h-2.1zM371.0 418.8h1.8v1.8h-1.8zM379.0 426.9h2.2v2.2h-2.2zM373.2 425.3h1.7v1.7h-1.7zM384.1 416.7h1.6v1.6h-1.6zM380.9 415.0h2.3v2.3h-2.3zM378.4 418.2h2.3v2.3h-2.3zM390.6 419.9h1.9v1.9h-1.9zM382.3 417.7h1.9v1.9h-1.9zM374.5 403.2h2.1v2.1h-2.1zM378.9 421.7h1.8v1.8h-1.8zM372.3 421.1h1.9v1.9h-1.9zM372.5 417.5h1.8v1.8h-1.8zM378.3 416.9h2.2v2.2h-2.2zM377.2 421.5h1.8v1.8h-1.8zM387.1 415.5h2.2v2.2h-2.2zM369.6 425.3h1.9v1.9h-1.9zM366.3 419.0h2.0v2.0h-2.0zM385.2 415.4h2.2v2.2h-2.2zM385.0 420.7h1.6v1.6h-1.6zM383.3 409.1h1.7v1.7h-1.7zM371.2 423.9h2.2v2.2h-2.2zM374.4 421.0h2.0v2.0h-2.0zM367.4 424.7h2.2v2.2h-2.2zM379.0 416.0h1.8v1.8h-1.8zM378.1 422.9h2.2v2.2h-2.2zM377.1 420.2h1.6v1.6h-1.6zM382.8 422.4h2.0v2.0h-2.0zM372.9 430.2h1.7v1.7h-1.7zM368.6 412.1h2.0v2.0h-2.0zM382.4 408.9h1.9v1.9h-1.9zM367.4 408.0h1.9v1.9h-1.9zM383.6 415.6h2.0v2.0h-2.0zM375.4 413.7h1.9v1.9h-1.9zM373.9 424.7h2.1v2.1h-2.1zM370.0 433.5h2.1v2.1h-2.1zM384.4 426.7h1.7v1.7h-1.7zM375.7 427.1h2.1v2.1h-2.1zM380.6 413.9h1.9v1.9h-1.9zM371.6 422.6h1.7v1.7h-1.7zM373.9 412.0h2.1v2.1h-2.1zM372.7 430.3h2.1v2.1h-2.1zM367.5 434.8h2.2v2.2h-2.2zM367.6 413.2h2.0v2.0h-2.0zM380.7 413.3h1.7v1.7h-1.7zM371.0 434.8h2.2v2.2h-2.2zM385.2 428.0h2.0v2.0h-2.0zM368.4 412.0h2.1v2.1h-2.1zM373.8 421.4h1.9v1.9h-1.9zM370.9 428.1h1.7v1.7h-1.7zM383.2 425.7h2.2v2.2h-2.2zM367.0 414.1h1.8v1.8h-1.8zM370.6 422.5h1.9v1.9h-1.9zM381.9 423.6h1.9v1.9h-1.9zM370.8 414.4h2.1v2.1h-2.1zM384.7 412.9h1.9v1.9h-1.9zM396.0 413.5h1.6v1.6h-1.6zM374.3 418.8h1.7v1.7h-1.7zM377.9 416.0h2.1v2.1h-2.1zM374.4 422.3h1.7v1.7h-1.7zM371.2 426.9h1.7v1.7h-1.7zM374.1 417.5h1.7v1.7h-1.7zM373.9 425.4h1.7v1.7h-1.7zM373.9 423.4h2.3v2.3h-2.3zM370.9 427.6h1.8v1.8h-1.8zM366.5 417.9h2.0v2.0h-2.0zM371.8 422.6h1.9v1.9h-1.9zM373.7 423.3h2.1v2.1h-2.1zM379.3 422.1h1.8v1.8h-1.8zM384.7 415.0h1.9v1.9h-1.9zM376.3 422.8h2.3v2.3h-2.3zM376.6 413.1h1.8v1.8h-1.8zM382.9 414.4h1.9v1.9h-1.9zM378.4 427.0h1.8v1.8h-1.8zM382.8 416.6h1.7v1.7h-1.7zM379.2 418.8h1.9v1.9h-1.9zM374.7 413.4h1.8v1.8h-1.8zM372.8 415.5h1.7v1.7h-1.7zM372.2 430.4h1.9v1.9h-1.9zM393.5 422.9h1.9v1.9h-1.9zM384.9 415.0h2.2v2.2h-2.2zM385.9 421.9h1.7v1.7h-1.7zM373.7 430.6h2.0v2.0h-2.0zM390.5 412.1h1.8v1.8h-1.8zM373.9 423.1h2.2v2.2h-2.2zM381.0 418.8h2.2v2.2h-2.2zM379.2 424.4h2.1v2.1h-2.1zM373.8 411.2h1.8v1.8h-1.8zM384.5 413.0h2.3v2.3h-2.3zM368.2 419.2h1.7v1.7h-1.7zM382.7 421.1h1.8v1.8h-1.8zM381.0 429.8h2.0v2.0h-2.0zM367.0 427.9h1.9v1.9h-1.9zM383.9 421.5h2.1v2.1h-2.1zM371.8 409.9h1.9v1.9h-1.9zM370.8 425.2h2.0v2.0h-2.0zM387.9 429.0h2.0v2.0h-2.0zM374.4 415.3h2.0v2.0h-2.0zM371.5 426.4h2.3v2.3h-2.3zM375.2 428.0h2.1v2.1h-2.1zM394.5 423.7h1.7v1.7h-1.7zM376.5 420.7h1.7v1.7h-1.7zM378.3 413.5h2.0v2.0h-2.0zM376.5 429.4h2.2v2.2h-2.2zM368.6 425.0h1.9v1.9h-1.9zM376.0 425.5h2.0v2.0h-2.0zM387.3 422.5h1.7v1.7h-1.7zM386.0 427.6h1.8v1.8h-1.8zM367.5 426.6h1.6v1.6h-1.6zM382.6 429.0h2.2v2.2h-2.2zM387.8 424.3h1.9v1.9h-1.9zM382.2 419.5h2.1v2.1h-2.1zM380.9 430.5h2.2v2.2h-2.2zM376.6 425.6h2.2v2.2h-2.2zM389.2 419.5h2.1v2.1h-2.1zM375.3 425.5h1.7v1.7h-1.7zM395.5 421.7h2.2v2.2h-2.2zM373.9 405.2h1.7v1.7h-1.7zM380.2 417.0h2.1v2.1h-2.1zM379.9 409.3h1.7v1.7h-1.7zM368.8 417.3h1.8v1.8h-1.8zM384.4 427.1h1.9v1.9h-1.9zM378.5 419.5h2.0v2.0h-2.0zM371.7 398.7h1.8v1.8h-1.8zM370.1 399.6h2.0v2.0h-2.0zM397.8 406.0h1.7v1.7h-1.7zM386.1 404.3h1.7v1.7h-1.7zM383.6 407.2h2.1v2.1h-2.1zM392.7 400.3h1.7v1.7h-1.7zM374.5 394.4h2.1v2.1h-2.1zM385.2 392.5h1.6v1.6h-1.6zM380.4 402.1h2.0v2.0h-2.0zM395.2 410.1h2.0v2.0h-2.0zM391.5 401.6h2.3v2.3h-2.3zM376.9 393.1h1.8v1.8h-1.8zM373.5 391.5h1.8v1.8h-1.8zM372.5 391.2h2.0v2.0h-2.0zM375.3 397.5h1.8v1.8h-1.8zM370.8 408.8h2.2v2.2h-2.2zM375.3 389.3h1.8v1.8h-1.8zM397.8 408.1h1.6v1.6h-1.6zM372.2 389.2h1.8v1.8h-1.8zM391.9 395.5h2.2v2.2h-2.2zM393.2 412.5h1.7v1.7h-1.7zM371.5 402.0h2.1v2.1h-2.1zM380.1 419.9h1.6v1.6h-1.6zM385.1 391.5h1.9v1.9h-1.9zM384.3 384.1h2.0v2.0h-2.0zM395.1 390.3h1.8v1.8h-1.8zM368.7 401.8h1.9v1.9h-1.9zM382.8 398.4h1.7v1.7h-1.7zM385.0 402.4h2.3v2.3h-2.3zM378.8 403.1h1.8v1.8h-1.8zM386.8 404.1h2.2v2.2h-2.2zM396.8 404.1h1.7v1.7h-1.7zM380.1 408.5h2.0v2.0h-2.0zM395.2 394.5h1.8v1.8h-1.8zM378.7 395.2h1.9v1.9h-1.9zM390.3 406.9h2.1v2.1h-2.1zM371.5 409.1h1.8v1.8h-1.8zM394.2 401.5h2.3v2.3h-2.3zM369.0 399.2h1.8v1.8h-1.8zM376.0 396.0h1.9v1.9h-1.9zM370.3 396.7h2.0v2.0h-2.0zM400.9 416.6h2.0v2.0h-2.0zM392.0 407.7h2.1v2.1h-2.1zM388.7 411.0h1.9v1.9h-1.9zM401.3 394.9h1.7v1.7h-1.7zM411.7 392.4h2.1v2.1h-2.1zM411.5 392.4h1.7v1.7h-1.7zM406.3 402.0h1.9v1.9h-1.9zM407.2 398.6h1.9v1.9h-1.9zM410.3 405.4h1.6v1.6h-1.6zM408.3 401.9h1.6v1.6h-1.6zM409.1 393.5h2.1v2.1h-2.1zM406.2 401.1h1.8v1.8h-1.8zM406.4 402.5h2.2v2.2h-2.2zM408.8 436.9h2.2v2.2h-2.2zM392.3 430.0h1.7v1.7h-1.7zM394.7 443.6h2.1v2.1h-2.1zM400.4 436.4h1.6v1.6h-1.6zM393.5 440.2h1.9v1.9h-1.9zM398.6 432.7h2.0v2.0h-2.0zM394.3 432.5h1.6v1.6h-1.6zM408.1 430.4h2.2v2.2h-2.2zM393.4 435.1h1.9v1.9h-1.9zM400.9 442.7h2.3v2.3h-2.3zM388.9 442.8h1.8v1.8h-1.8zM399.1 444.4h1.9v1.9h-1.9z"/>
<rect x="364.6" y="331.9" width="105.69999999999999" height="115.60000000000002" fill="none" stroke="#000" stroke-width="2.3"/>
<line x1="364.6" y1="381.2" x2="470.3" y2="381.2" stroke="#000" stroke-width="2.5"/>
<line x1="415.9" y1="331.9" x2="415.9" y2="447.5" stroke="#000" stroke-width="2.5"/>
<path fill="none" stroke="#000" stroke-width="1.6" d="M359.1 447.5H364.6M360.6 438.8H364.6M360.6 433.7H364.6M360.6 430.1H364.6M360.6 427.3H364.6M360.6 425.0H364.6M360.6 423.1H364.6M360.6 421.4H364.6M360.6 419.9H364.6M359.1 418.6H364.6M360.6 409.9H364.6M360.6 404.8H364.6M360.6 401.2H364.6M360.6 398.4H364.6M360.6 396.1H364.6M360.6 394.2H364.6M360.6 392.5H364.6M360.6 391.0H364.6M359.1 389.7H364.6M360.6 381.0H364.6M360.6 375.9H364.6M360.6 372.3H364.6M360.6 369.5H364.6M360.6 367.2H364.6M360.6 365.3H364.6M360.6 363.6H364.6M360.6 362.1H364.6M359.1 360.8H364.6M360.6 352.1H364.6M360.6 347.0H364.6M360.6 343.4H364.6M360.6 340.6H364.6M360.6 338.3H364.6M360.6 336.4H364.6M360.6 334.7H364.6M360.6 333.2H364.6M364.6 447.5V453.5M372.6 447.5V452.0M377.2 447.5V452.0M380.5 447.5V452.0M383.1 447.5V452.0M385.2 447.5V452.0M386.9 447.5V452.0M388.5 447.5V452.0M389.8 447.5V452.0M391.0 447.5V453.5M399.0 447.5V452.0M403.6 447.5V452.0M406.9 447.5V452.0M409.5 447.5V452.0M411.6 447.5V452.0M413.4 447.5V452.0M414.9 447.5V452.0M416.2 447.5V452.0M417.5 447.5V453.5M425.4 447.5V452.0M430.1 447.5V452.0M433.4 447.5V452.0M435.9 447.5V452.0M438.0 447.5V452.0M439.8 447.5V452.0M441.3 447.5V452.0M442.7 447.5V452.0M443.9 447.5V453.5M451.8 447.5V452.0M456.5 447.5V452.0M459.8 447.5V452.0M462.3 447.5V452.0M464.4 447.5V452.0M466.2 447.5V452.0M467.7 447.5V452.0M469.1 447.5V452.0"/>
</svg>
</body></html>
